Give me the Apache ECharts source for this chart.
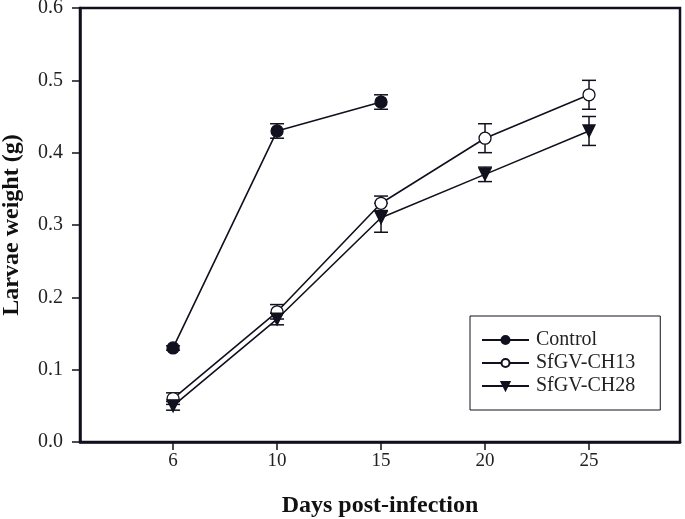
<!DOCTYPE html>
<html>
<head>
<meta charset="utf-8">
<script src="https://cdn.jsdelivr.net/npm/echarts@6/dist/echarts.min.js"></script>
<style>html,body{margin:0;padding:0;background:#fff}#c{width:685px;height:519px}</style>
</head>
<body>
<div id="c"></div>
<script>
var days = [6, 10, 15, 20, 25];
var seriesNames = ['Control', 'SfGV-CH13', 'SfGV-CH28'];
var controlMean = [0.13, 0.43, 0.47, null, null];
var controlErr  = [0.003, 0.01, 0.01, null, null];
var ch13Mean = [0.06, 0.18, 0.33, 0.42, 0.48];
var ch13Err  = [0.008, 0.01, 0.01, 0.02, 0.02];
var ch28Mean = [0.05, 0.17, 0.31, 0.37, 0.43];
var ch28Err  = [0.006, 0.008, 0.02, 0.01, 0.02];
var yTicks = [0, 0.1, 0.2, 0.3, 0.4, 0.5, 0.6];

var INK = '#10101e';
var FONT = '"Liberation Serif", "DejaVu Serif", serif';

function pairs(mean) {
  var out = [];
  for (var i = 0; i < days.length; i++) if (mean[i] != null) out.push([i, mean[i]]);
  return out;
}
function errData(mean, err) {
  var out = [];
  for (var i = 0; i < days.length; i++) if (mean[i] != null) out.push([i, mean[i] - err[i], mean[i] + err[i]]);
  return out;
}
function errSeries(mean, err) {
  return {
    type: 'custom',
    z: 1,
    silent: true,
    data: errData(mean, err),
    encode: { x: 0, y: [1, 2] },
    renderItem: function (params, api) {
      var lo = api.coord([api.value(0), api.value(1)]);
      var hi = api.coord([api.value(0), api.value(2)]);
      var w = 7;
      var st = { stroke: INK, lineWidth: 1.5, fill: null };
      return {
        type: 'group',
        children: [
          { type: 'line', shape: { x1: lo[0], y1: lo[1], x2: hi[0], y2: hi[1] }, style: st },
          { type: 'line', shape: { x1: lo[0] - w, y1: lo[1], x2: lo[0] + w, y2: lo[1] }, style: st },
          { type: 'line', shape: { x1: hi[0] - w, y1: hi[1], x2: hi[0] + w, y2: hi[1] }, style: st }
        ]
      };
    }
  };
}
function lineSeries(name, mean, symbol, fill, size) {
  return {
    name: name,
    type: 'line',
    z: 3,
    data: pairs(mean),
    symbol: symbol,
    symbolSize: size,
    symbolRotate: symbol === 'triangle' ? 180 : 0,
    showAllSymbol: true,
    lineStyle: { color: INK, width: 1.6 },
    itemStyle: { color: fill, borderColor: INK, borderWidth: 1.3, opacity: 1 },
    emphasis: { disabled: true }
  };
}

var chart = echarts.init(document.getElementById('c'), null, { renderer: 'canvas' });
chart.setOption({
  animation: false,
  backgroundColor: '#fff',
  grid: { left: 80, right: 5, top: 8, bottom: 77, containLabel: false, outerBoundsMode: 'none', show: true, borderColor: INK, borderWidth: 2.5, backgroundColor: 'transparent' },
  xAxis: {
    type: 'value',
    min: -0.895,
    max: 4.875,
    name: 'Days post-infection',
    nameLocation: 'middle',
    nameGap: 52,
    nameTextStyle: { fontFamily: FONT, fontWeight: 'bold', fontSize: 24, color: '#111' },
    axisLine: { show: true, onZero: false, lineStyle: { color: INK, width: 2.5 } },
    axisTick: { show: true, inside: false, length: 8, lineStyle: { color: INK, width: 1.5 }, customValues: [0, 1, 2, 3, 4] },
    axisLabel: {
      customValues: [0, 1, 2, 3, 4],
      margin: 10,
      fontFamily: FONT, fontSize: 19, color: '#222',
      formatter: function (v) { return String(days[Math.round(v)]); }
    },
    splitLine: { show: false }
  },
  yAxis: {
    type: 'value',
    min: 0,
    max: 0.6,
    interval: 0.1,
    name: 'Larvae weight (g)',
    nameLocation: 'middle',
    nameGap: 56,
    nameRotate: 90,
    nameTextStyle: { fontFamily: FONT, fontWeight: 'bold', fontSize: 24, color: '#111' },
    axisLine: { show: true, onZero: false, lineStyle: { color: INK, width: 2.5 } },
    axisTick: { show: true, inside: false, length: 8, lineStyle: { color: INK, width: 1.5 } },
    axisLabel: {
      margin: 17,
      fontFamily: FONT, fontSize: 20, color: '#222',
      formatter: function (v) { return v.toFixed(1); }
    },
    splitLine: { show: false }
  },
  legend: {
    orient: 'vertical',
    left: 470,
    top: 316,
    padding: [14, 25, 14, 11],
    itemGap: 3,
    itemWidth: 47,
    itemHeight: 10,
    borderColor: INK,
    borderWidth: 1,
    backgroundColor: '#fff',
    textStyle: { fontFamily: FONT, fontSize: 20, color: '#222', padding: [0, 0, 0, 2] },
    data: seriesNames
  },
  series: [
    errSeries(controlMean, controlErr),
    errSeries(ch13Mean, ch13Err),
    errSeries(ch28Mean, ch28Err),
    lineSeries(seriesNames[0], controlMean, 'circle', INK, 12),
    lineSeries(seriesNames[1], ch13Mean, 'circle', '#fff', 12),
    lineSeries(seriesNames[2], ch28Mean, 'triangle', INK, 12)
  ]
});
</script>
</body>
</html>
